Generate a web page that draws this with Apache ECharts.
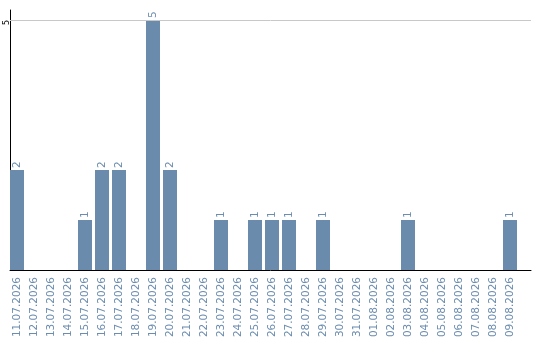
<!DOCTYPE html>
<html>
<head>
<meta charset="utf-8">
<script src="https://cdn.jsdelivr.net/npm/echarts@6/dist/echarts.min.js"></script>
<style>
  html, body { margin: 0; padding: 0; background: #fff; }
  #chart { width: 540px; height: 340px; }
</style>
</head>
<body>
<div id="chart"></div>
<script>
// Daily counts, 11.07.2026 – 09.08.2026
const dates = [
  '11.07.2026', '12.07.2026', '13.07.2026', '14.07.2026', '15.07.2026',
  '16.07.2026', '17.07.2026', '18.07.2026', '19.07.2026', '20.07.2026',
  '21.07.2026', '22.07.2026', '23.07.2026', '24.07.2026', '25.07.2026',
  '26.07.2026', '27.07.2026', '28.07.2026', '29.07.2026', '30.07.2026',
  '31.07.2026', '01.08.2026', '02.08.2026', '03.08.2026', '04.08.2026',
  '05.08.2026', '06.08.2026', '07.08.2026', '08.08.2026', '09.08.2026'
];
const counts = [
  2, 0, 0, 0, 1,
  2, 2, 0, 5, 2,
  0, 0, 1, 0, 1,
  1, 1, 0, 1, 0,
  0, 0, 0, 1, 0,
  0, 0, 0, 0, 1
];
const yTicks = [5];

const barColor = '#6a8bab';
const textColor = '#6c8db0';
const font = 'DejaVu Sans';

// Days are placed on a numeric axis (one unit per day) so the plot can run
// past the last day on the right.
const points = counts.map((v, i) => [i, v]);
const dayIndexes = dates.map((d, i) => i);

const chart = echarts.init(document.getElementById('chart'), null, { renderer: 'canvas' });
chart.setOption({
  animation: false,
  grid: { left: 10, right: 9, top: 10, bottom: 70, containLabel: false, outerBoundsMode: 'none' },
  xAxis: {
    type: 'value',
    min: -0.4118,
    max: 30.235,
    axisLine: { show: true, onZero: false, lineStyle: { color: '#000', width: 1 } },
    axisTick: { show: false },
    splitLine: { show: false },
    axisLabel: {
      customValues: dayIndexes,
      rotate: 90,
      margin: 7,
      color: textColor,
      fontFamily: font,
      fontSize: 10.5,
      formatter: v => dates[Math.round(v)] || ''
    }
  },
  yAxis: {
    type: 'value',
    min: 0,
    max: 5.2,
    axisLine: { show: true, onZero: false, lineStyle: { color: '#000', width: 1 } },
    axisTick: { show: false },
    splitLine: { show: false },
    axisLabel: {
      customValues: yTicks,
      rotate: 90,
      margin: -1,
      align: 'right',
      verticalAlign: 'bottom',
      color: '#000',
      fontFamily: font,
      fontSize: 8
    }
  },
  series: [{
    type: 'bar',
    data: points,
    barWidth: 14,
    itemStyle: { color: barColor },
    label: {
      show: true,
      position: 'top',
      rotate: 90,
      align: 'left',
      verticalAlign: 'middle',
      distance: 2,
      color: textColor,
      fontFamily: font,
      fontSize: 10.5,
      formatter: p => p.value[1] > 0 ? String(p.value[1]) : ''
    },
    markLine: {
      silent: true,
      symbol: 'none',
      label: { show: false },
      lineStyle: { color: '#c8c8c8', type: 'solid', width: 1 },
      data: yTicks.map(t => ({ yAxis: t }))
    }
  }]
});
</script>
</body>
</html>
